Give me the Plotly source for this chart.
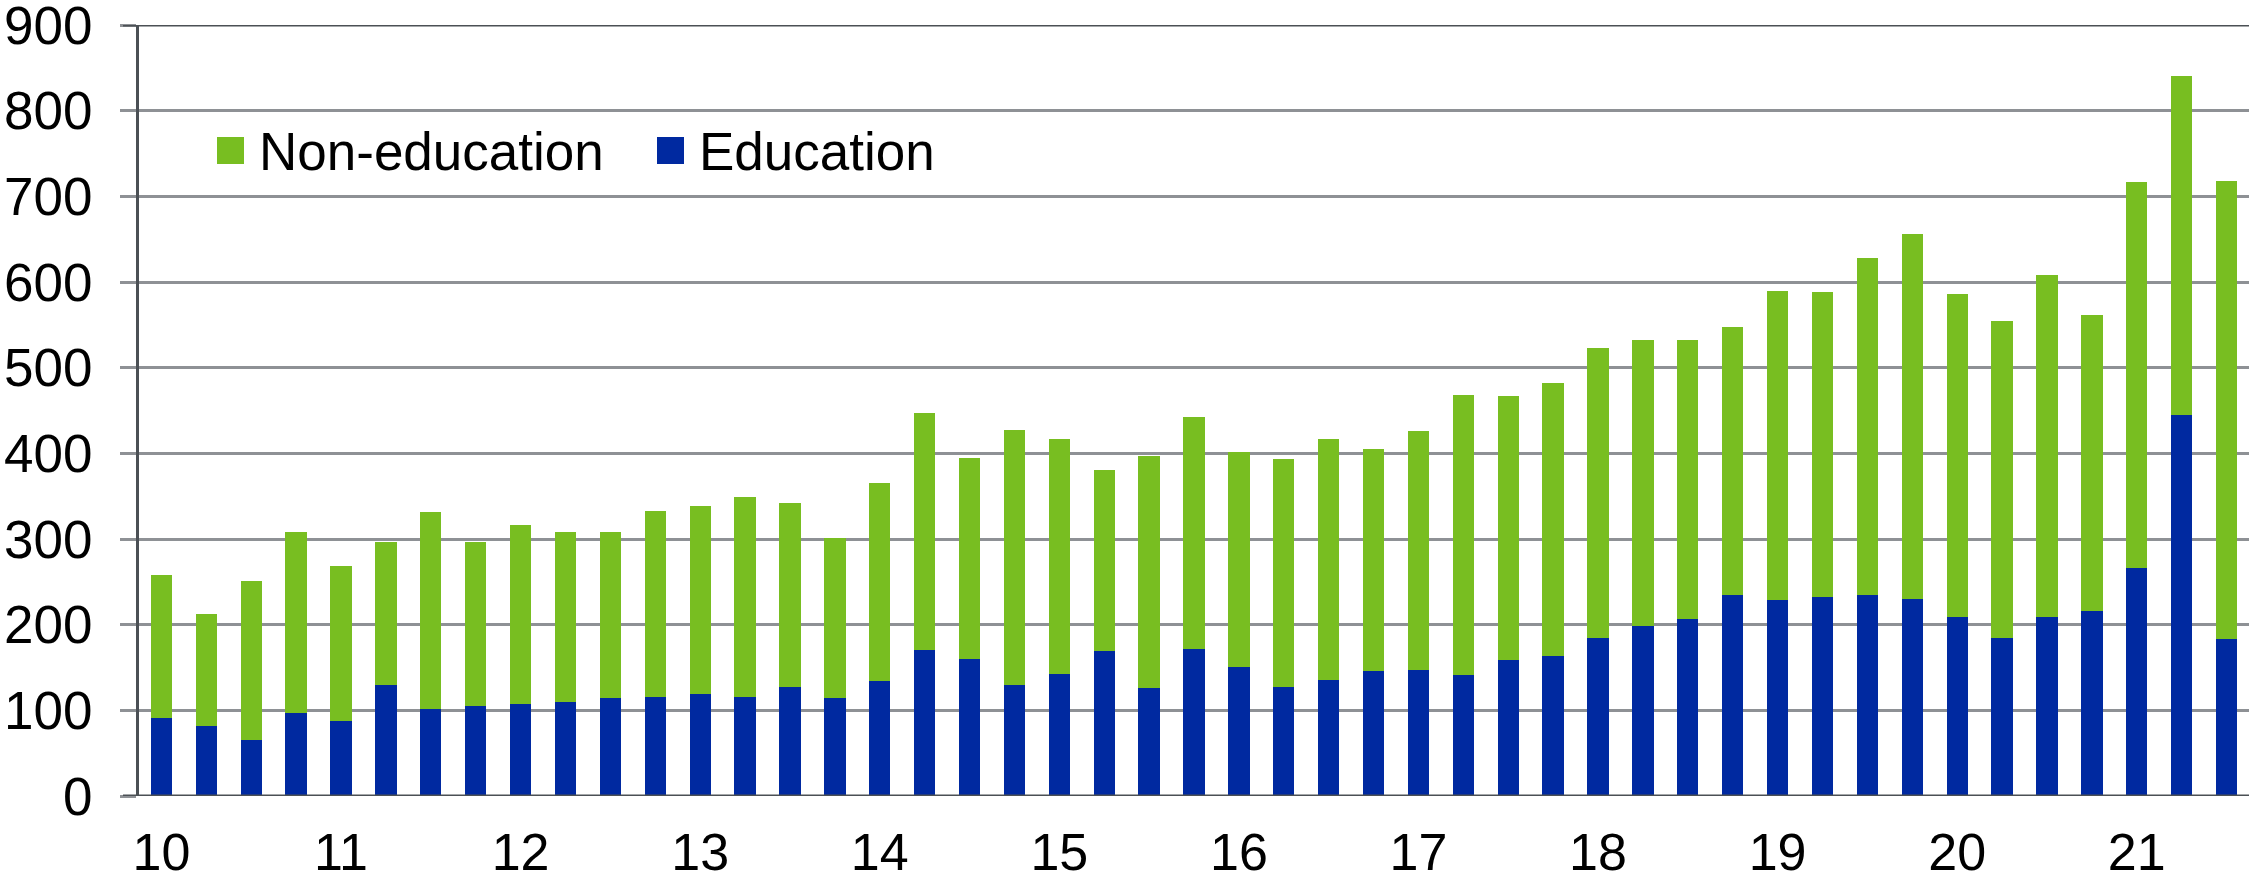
"""Stacked quarterly bars: education vs non-education, 2010Q1-2021Q3."""
import plotly.graph_objects as go

quarters = [
    "2010Q1", "2010Q2", "2010Q3", "2010Q4", "2011Q1", "2011Q2", "2011Q3", "2011Q4",
    "2012Q1", "2012Q2", "2012Q3", "2012Q4", "2013Q1", "2013Q2", "2013Q3", "2013Q4",
    "2014Q1", "2014Q2", "2014Q3", "2014Q4", "2015Q1", "2015Q2", "2015Q3", "2015Q4",
    "2016Q1", "2016Q2", "2016Q3", "2016Q4", "2017Q1", "2017Q2", "2017Q3", "2017Q4",
    "2018Q1", "2018Q2", "2018Q3", "2018Q4", "2019Q1", "2019Q2", "2019Q3", "2019Q4",
    "2020Q1", "2020Q2", "2020Q3", "2020Q4", "2021Q1", "2021Q2", "2021Q3",
]

education = [
    91, 82, 65, 97, 87, 130, 102, 105, 107, 110, 114, 116,
    119, 116, 127, 114, 134, 171, 160, 130, 142, 169, 126, 172,
    151, 127, 135, 146, 147, 141, 159, 164, 184, 199, 207, 235,
    229, 232, 235, 230, 209, 184, 209, 216, 266, 445, 183,
]

non_education = [
    167, 131, 186, 211, 181, 167, 230, 192, 209, 198, 194, 217,
    219, 233, 215, 187, 231, 276, 235, 297, 275, 211, 271, 271,
    251, 266, 282, 259, 279, 327, 308, 318, 339, 333, 325, 312,
    361, 356, 393, 426, 377, 371, 399, 345, 451, 395, 535,
]

tick_vals = ["2010Q1", "2011Q1", "2012Q1", "2013Q1", "2014Q1", "2015Q1",
             "2016Q1", "2017Q1", "2018Q1", "2019Q1", "2020Q1", "2021Q1"]
tick_text = ["10", "11", "12", "13", "14", "15", "16", "17", "18", "19", "20", "21"]

GREEN = "#78BE21"
BLUE = "#0029A0"
AXIS = "#4B5055"
GRID = "#8E9195"
FONT = "Liberation Sans, Arial, sans-serif"

W, H = 2249, 883
L, R, T, B = 139, 0, 25, 87
PW, PH = W - L - R, H - T - B


def px_x(x):
    return (x - L) / PW


def px_y(y):
    return (H - B - y) / PH


fig = go.Figure()
fig.add_trace(go.Bar(x=quarters, y=education, name="Education",
                     marker=dict(color=BLUE, line=dict(width=0))))
fig.add_trace(go.Bar(x=quarters, y=non_education, name="Non-education",
                     marker=dict(color=GREEN, line=dict(width=0))))

# hand-drawn legend (big square swatches)
shapes = []
annotations = []
for x0, color, label in [(217, GREEN, "Non-education"), (657, BLUE, "Education")]:
    shapes.append(dict(type="rect", xref="paper", yref="paper",
                       x0=px_x(x0), x1=px_x(x0 + 27), y0=px_y(164), y1=px_y(137),
                       fillcolor=color, line=dict(width=0), layer="above"))
    annotations.append(dict(xref="paper", yref="paper", x=px_x(x0 + 40), y=px_y(151),
                            xanchor="left", yanchor="middle", showarrow=False,
                            text=label, font=dict(size=53, color="black", family=FONT)))

# dark frame lines at 0 and 900 running out over the tick area
for yv in (0, 900):
    shapes.append(dict(type="line", xref="paper", yref="y",
                       x0=px_x(123), x1=1, y0=yv, y1=yv,
                       line=dict(color=AXIS, width=3), layer="above"))

fig.update_layout(
    width=W, height=H,
    margin=dict(l=L, r=R, t=T, b=B, autoexpand=False),
    barmode="stack",
    bargap=0.525,
    showlegend=False,
    plot_bgcolor="white",
    paper_bgcolor="white",
    font=dict(family=FONT, size=52, color="black"),
    shapes=shapes,
    annotations=annotations,
    xaxis=dict(
        type="category",
        range=[-0.5, 46.5],
        tickmode="array", tickvals=tick_vals, ticktext=tick_text,
        ticks="", showgrid=False, showline=False,
        tickfont=dict(size=52, color="black"),
        ticklabelstandoff=21,
    ),
    yaxis=dict(
        range=[0, 900], dtick=100,
        showgrid=True, gridcolor=GRID, gridwidth=2.5,
        zeroline=False,
        showline=True, linecolor=AXIS, linewidth=3,
        ticks="outside", ticklen=16, tickwidth=2.5, tickcolor=GRID,
        tickfont=dict(size=53, color="black"),
        ticklabelstandoff=17,
        ticklabeloverflow="allow",
    ),
)

fig.write_html("out.html", config={"displayModeBar": False},
               post_script="document.body.style.margin='0px';")
